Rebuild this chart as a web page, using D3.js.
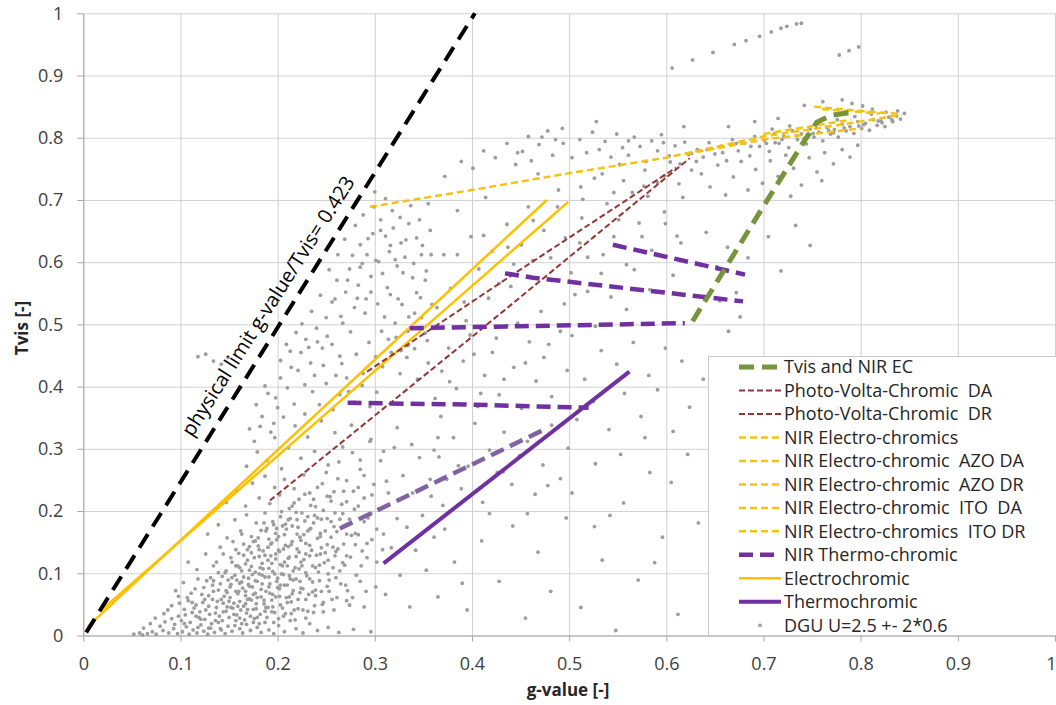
<!DOCTYPE html>
<html>
<head>
<meta charset="utf-8">
<script src="https://cdn.jsdelivr.net/npm/d3@7"></script>
<style>
  body { margin: 0; background: #fff; }
  text { font-family: "Open Sans", "Noto Sans", sans-serif; }
</style>
</head>
<body>
<div id="chart"></div>
<script>

// tick values and labels
var xTicks = [0, 0.1, 0.2, 0.3, 0.4, 0.5, 0.6, 0.7, 0.8, 0.9, 1];
var xTickLabels = ["0", "0.1", "0.2", "0.3", "0.4", "0.5", "0.6", "0.7", "0.8", "0.9", "1"];
var yTicks = [0, 0.1, 0.2, 0.3, 0.4, 0.5, 0.6, 0.7, 0.8, 0.9, 1];
var yTickLabels = ["0", "0.1", "0.2", "0.3", "0.4", "0.5", "0.6", "0.7", "0.8", "0.9", "1"];

// lines [g-value, Tvis]
var physicalLimit = [[0.003, 0.005], [0.403, 1.0]];
var tvisNirEC = [[0.627, 0.505], [0.70, 0.69], [0.74, 0.79], [0.755, 0.825], [0.77, 0.836], [0.795, 0.842]];
var pvcDA = [[0.192, 0.217], [0.40, 0.48], [0.624, 0.767]];
var pvcDR = [[0.292, 0.424], [0.44, 0.578], [0.61, 0.752]];
var nirEC = [[0.295, 0.689], [0.40, 0.716], [0.50, 0.743], [0.60, 0.768], [0.70, 0.802], [0.78, 0.821], [0.842, 0.837]];
var nirEcAzoDA = [[0.752, 0.850], [0.80, 0.843], [0.842, 0.838]];
var nirEcAzoDR = [[0.62, 0.774], [0.70, 0.797], [0.80, 0.815]];
var nirEcItoDA = [[0.76, 0.846], [0.82, 0.839]];
var nirEcItoDR = [[0.70, 0.806], [0.79, 0.829]];
var nirThermo1 = [[0.336, 0.494], [0.45, 0.497], [0.619, 0.502]];
var nirThermo2 = [[0.434, 0.582], [0.463, 0.575], [0.679, 0.537]];
var nirThermo3 = [[0.545, 0.628], [0.681, 0.580]];
var nirThermo4 = [[0.272, 0.374], [0.40, 0.371], [0.52, 0.366]];
var nirThermo5 = [[0.264, 0.172], [0.477, 0.333]];
var electro1 = [[0.005, 0.015], [0.477, 0.700]];
var electro2 = [[0.018, 0.040], [0.499, 0.697]];
var thermo = [[0.309, 0.116], [0.562, 0.424]];

// DGU scatter [g-value, Tvis], split by region of the plot
var dguLow = [
  [.052,.002],[.058,.004],[.061,.001],[.066,.003],[.071,.006],[.075,.002],[.082,.008],[.088,.004],[.093,.011],[.097,.003],
  [.102,.006],[.106,.014],[.109,.002],[.113,.009],[.117,.004],[.121,.017],[.124,.007],[.128,.002],[.131,.012],[.135,.005],
  [.139,.021],[.142,.009],[.146,.003],[.149,.015],[.153,.007],[.157,.024],[.161,.011],[.164,.004],[.168,.018],[.172,.008],
  [.176,.027],[.179,.013],[.183,.005],[.187,.021],[.191,.009],[.196,.003],[.201,.016],[.207,.006],[.213,.024],[.219,.011],
  [.226,.004],[.233,.019],[.241,.008],[.252,.013],[.263,.005],[.278,.010],[.296,.006],
  [.083,.035],[.091,.048],[.098,.031],[.104,.042],[.108,.056],[.112,.037],[.116,.049],[.119,.029],[.123,.053],[.126,.041],
  [.13,.034],[.133,.058],[.137,.045],[.14,.031],[.144,.052],[.147,.039],[.151,.061],[.154,.044],[.158,.033],[.161,.055],
  [.165,.047],[.168,.036],[.171,.059],[.175,.042],[.178,.051],[.182,.034],[.186,.057],[.19,.045],[.194,.038],[.198,.062],
  [.203,.049],[.208,.035],[.214,.054],[.221,.043],[.229,.058],[.237,.037],[.246,.05],[.258,.041],[.271,.056],[.289,.046],
  [.095,.072],[.103,.085],[.111,.068],[.118,.091],[.124,.077],[.129,.064],[.134,.088],[.139,.073],[.143,.095],[.148,.069],
  [.152,.082],[.156,.097],[.16,.071],[.163,.086],[.167,.064],[.17,.092],[.174,.078],[.177,.068],[.181,.099],[.184,.083],
  [.188,.071],[.191,.094],[.195,.066],[.199,.087],[.202,.075],[.206,.098],[.21,.081],[.215,.067],[.219,.091],[.224,.076],
  [.23,.096],[.236,.07],[.243,.088],[.251,.079],[.26,.093],[.272,.072],[.285,.087],[.301,.078],
  [.108,.118],[.117,.106],[.126,.131],[.134,.112],[.141,.142],[.147,.104],[.152,.125],[.157,.138],[.161,.109],[.165,.147],
  [.169,.121],[.173,.133],[.177,.102],[.18,.144],[.184,.116],[.187,.129],[.191,.108],[.194,.149],[.198,.123],[.201,.137],
  [.205,.112],[.208,.145],[.212,.126],[.216,.104],[.22,.139],[.224,.118],[.229,.148],[.233,.128],[.239,.109],[.245,.141],
  [.252,.121],[.26,.135],[.269,.113],[.28,.146],[.292,.125],[.308,.138],
  [.128,.163],[.139,.178],[.148,.157],[.156,.186],[.162,.168],[.168,.194],[.173,.159],[.178,.181],[.183,.169],[.187,.197],
  [.191,.155],[.195,.183],[.199,.172],[.203,.191],[.207,.162],[.211,.186],[.215,.176],[.219,.198],[.223,.158],[.228,.184],
  [.233,.171],[.238,.193],[.244,.164],[.251,.188],[.258,.175],[.267,.196],[.276,.161],[.289,.183],[.302,.171],
  [.147,.214],[.158,.232],[.167,.208],[.174,.245],[.181,.221],[.187,.256],[.192,.212],[.197,.238],[.202,.226],[.207,.251],
  [.212,.204],[.217,.236],[.222,.219],[.227,.258],[.233,.229],[.239,.207],[.246,.244],[.254,.223],[.262,.252],[.271,.215],
  [.283,.238],[.297,.226],[.312,.248],
  [.168,.272],[.179,.295],[.189,.281],[.197,.318],[.204,.268],[.211,.302],[.218,.337],[.224,.285],[.231,.319],[.238,.296],
  [.245,.345],[.252,.274],[.259,.326],[.267,.303],[.276,.338],[.285,.282],[.296,.315],[.309,.296],[.323,.334],[.338,.307]
];

var dguCore = [
  [.062,.012],[.069,.019],[.074,.028],[.079,.015],[.084,.022],[.087,.041],[.091,.027],[.094,.018],[.099,.052],[.101,.024],
  [.105,.033],[.107,.061],[.11,.021],[.114,.044],[.115,.075],[.118,.013],[.12,.038],[.122,.066],[.125,.026],[.127,.088],
  [.129,.047],[.132,.019],[.134,.071],[.136,.036],[.138,.055],[.141,.083],[.143,.024],[.145,.063],[.146,.101],[.148,.046],
  [.15,.029],[.151,.078],[.153,.118],[.155,.052],[.156,.016],[.158,.089],[.159,.067],[.16,.132],[.162,.041],[.163,.104],
  [.164,.076],[.166,.025],[.167,.115],[.169,.058],[.17,.082],[.171,.143],[.172,.031],[.174,.098],[.175,.066],[.176,.125],
  [.178,.043],[.179,.087],[.18,.157],[.181,.019],[.182,.109],[.183,.074],[.185,.136],[.186,.051],[.187,.094],[.188,.168],
  [.189,.029],[.19,.121],[.192,.083],[.193,.147],[.194,.057],[.195,.103],[.196,.178],[.197,.037],[.198,.131],[.2,.092],
  [.201,.159],[.202,.063],[.203,.114],[.204,.199],[.205,.044],[.206,.139],[.207,.081],[.209,.171],[.21,.053],[.211,.124],
  [.212,.096],[.213,.188],[.214,.035],[.215,.151],[.216,.072],[.217,.213],[.218,.109],[.22,.163],[.221,.058],[.222,.134],
  [.223,.087],[.225,.197],[.226,.041],[.227,.122],[.228,.227],[.229,.101],[.231,.168],[.232,.066],[.233,.145],[.234,.209],
  [.236,.086],[.237,.181],[.238,.048],[.24,.129],[.241,.238],[.242,.102],[.244,.159],[.245,.071],[.247,.201],[.248,.117],
  [.25,.262],[.251,.146],[.253,.089],[.255,.183],[.256,.058],[.258,.231],[.259,.128],[.261,.167],[.263,.279],[.264,.104],
  [.266,.211],[.268,.147],[.27,.081],[.271,.249],[.273,.179],[.275,.126],[.277,.294],[.279,.203],[.281,.097],[.283,.162],
  [.285,.267],[.287,.136],[.289,.221],[.291,.071],[.293,.189],[.295,.312],[.297,.154],[.299,.243],[.302,.118],[.304,.204],
  [.306,.281],[.309,.163],[.311,.066],[.314,.229],[.317,.141],[.32,.302],[.323,.188],[.326,.097],[.329,.257],[.333,.174],
  [.336,.046],[.339,.229],[.342,.137],[.346,.286],[.349,.193],[.353,.105],[.357,.251],[.361,.158],[.365,.318],[.37,.209],
  [.131,.093],[.137,.118],[.142,.058],[.144,.131],[.149,.089],[.152,.045],[.154,.151],[.157,.071],[.159,.112],[.161,.028],
  [.163,.163],[.165,.094],[.167,.051],[.169,.138],[.171,.079],[.173,.111],[.175,.021],[.177,.152],[.179,.061],[.181,.127],
  [.184,.097],[.186,.181],[.188,.045],[.19,.142],[.192,.068],[.194,.116],[.196,.021],[.198,.164],[.2,.077],[.202,.135],
  [.204,.099],[.206,.031],[.208,.179],[.21,.112],[.212,.062],[.214,.146],[.216,.089],[.218,.025],[.22,.186],[.222,.107],
  [.224,.153],[.226,.075],[.229,.131],[.231,.039],[.234,.172],[.236,.112],[.239,.064],[.241,.189],[.244,.131],[.247,.053],
  [.249,.168],[.252,.099],[.255,.216],[.257,.142],[.261,.061],[.264,.187],[.267,.117],[.271,.163],[.274,.049],[.278,.232],
  [.141,.011],[.144,.038],[.147,.072],[.15,.055],[.153,.093],[.155,.034],[.157,.112],[.159,.047],[.161,.084],[.163,.019],
  [.165,.129],[.167,.071],[.169,.042],[.171,.105],[.173,.057],[.175,.151],[.177,.088],[.179,.029],[.181,.138],[.183,.062],
  [.185,.107],[.187,.039],[.189,.172],[.191,.078],[.193,.128],[.195,.046],[.197,.099],[.199,.154],[.201,.027],[.203,.081],
  [.205,.176],[.207,.118],[.209,.061],[.211,.143],[.213,.091],[.215,.208],[.217,.041],[.219,.127],[.221,.174],[.223,.069],
  [.225,.112],[.227,.162],[.229,.028],[.231,.191],[.233,.091],[.235,.137],[.237,.219],[.239,.073],[.241,.156],[.243,.113],
  [.245,.187],[.247,.038],[.249,.133],[.251,.224],[.253,.071],[.255,.158],[.257,.109],[.259,.197],[.262,.139],[.265,.083],
  [.268,.232],[.271,.128],[.274,.187],[.277,.061],[.28,.164],[.283,.208],[.286,.112],[.289,.257],[.292,.148],[.296,.196],
  [.121,.026],[.125,.058],[.129,.012],[.133,.081],[.136,.024],[.139,.101],[.112,.053],[.116,.031],[.104,.019],[.098,.063]
];

var dguCloud = [
  [.118,.448],[.126,.452],[.134,.441],[.142,.436],[.149,.447],
  [.171,.332],[.178,.371],[.184,.352],[.19,.389],[.196,.341],[.2,.366],
  [.203,.442],[.209,.468],[.214,.431],[.219,.487],[.224,.455],[.229,.476],[.234,.438],[.24,.494],[.246,.462],[.251,.481],
  [.256,.536],[.261,.571],[.265,.513],[.27,.552],[.274,.589],[.279,.527],[.283,.563],[.287,.598],[.291,.541],[.296,.577],
  [.228,.356],[.236,.392],[.243,.371],[.25,.405],[.257,.363],[.264,.387],[.271,.414],[.279,.375],[.287,.402],[.295,.368],[.302,.391],
  [.306,.668],[.311,.642],[.315,.617],[.319,.655],[.323,.594],[.327,.631],[.331,.608],[.335,.662],[.339,.575],[.343,.639],
  [.348,.612],[.353,.586],[.357,.651],[.285,.628],[.292,.612],[.298,.646],[.304,.601],
  [.31,.512],[.316,.548],[.322,.479],[.328,.532],[.334,.466],[.341,.518],[.347,.543],[.352,.486],
  [.308,.432],[.317,.455],[.326,.421],[.333,.447],[.344,.412],[.355,.438],[.30,.713],
  [.176,.312],[.182,.336],[.187,.401],[.193,.327],[.198,.382],[.203,.414],[.206,.351],[.21,.398],[.213,.457],[.217,.372],
  [.221,.426],[.225,.501],[.228,.403],[.232,.463],[.235,.521],[.238,.418],[.241,.472],[.244,.547],[.247,.434],[.25,.511],
  [.253,.588],[.256,.468],[.259,.541],[.262,.612],[.264,.449],[.267,.502],[.269,.637],[.272,.571],[.275,.488],[.277,.611],
  [.28,.659],[.282,.542],[.285,.592],[.288,.676],[.29,.518],[.293,.638],[.296,.552],[.299,.689],[.301,.603],[.303,.533],
  [.306,.651],[.308,.582],[.311,.702],[.313,.559],[.316,.627],[.318,.683],[.321,.604],[.324,.541],[.326,.672],[.329,.583],
  [.332,.636],[.335,.512],[.337,.691],[.34,.598],[.343,.551],[.346,.668],[.349,.627],[.352,.571],[.355,.694],[.358,.612],
  [.26,.418],[.266,.437],[.273,.392],[.281,.452],[.288,.421],[.294,.471],[.301,.448],[.307,.489],[.314,.476],[.321,.502],
  [.327,.458],[.334,.489],[.341,.461],[.348,.511],[.354,.474],[.359,.532]
];

var dguMid = [
  [.365,.062],[.382,.118],[.395,.041],[.41,.152],[.428,.087],[.442,.176],[.455,.028],[.468,.134],[.481,.071],[.497,.189],
  [.372,.171],[.418,.196],[.39,.084],
  [.358,.224],[.366,.287],[.374,.251],[.381,.318],[.389,.236],[.396,.272],[.403,.341],[.411,.214],[.418,.298],[.426,.262],
  [.433,.327],[.441,.243],[.449,.289],[.457,.312],[.465,.227],[.473,.274],[.482,.338],[.491,.252],[.499,.301],
  [.362,.381],[.369,.425],[.376,.462],[.384,.397],[.391,.441],[.398,.483],[.406,.368],[.413,.418],[.421,.455],[.428,.387],
  [.436,.498],[.443,.431],[.451,.365],[.459,.472],[.466,.409],[.474,.447],[.482,.384],[.491,.489],[.498,.426],
  [.364,.527],[.371,.612],[.378,.558],[.385,.683],[.392,.536],[.399,.641],[.407,.589],[.414,.704],[.421,.618],[.428,.566],
  [.436,.661],[.443,.597],[.451,.628],[.458,.689],[.466,.574],[.474,.651],[.481,.607],[.489,.716],[.496,.639],[.502,.583],
  [.372,.738],[.389,.762],[.401,.751],[.412,.779],[.424,.768],[.436,.791],[.447,.776],[.458,.802],[.469,.789],[.478,.811],
  [.486,.797],[.493,.815],[.468,.742],[.445,.757],
  [.512,.045],[.534,.121],[.548,.008],[.556,.213],[.571,.089],[.583,.262],[.596,.158],[.612,.034],[.622,.291],[.527,.276],
  [.542,.193],[.588,.117],
  [.508,.347],[.516,.412],[.525,.376],[.533,.458],[.541,.331],[.549,.436],[.557,.389],[.566,.471],[.574,.352],[.582,.418],
  [.591,.395],[.599,.462],[.607,.328],[.616,.441],[.624,.367],
  [.506,.548],[.513,.671],[.519,.608],[.526,.735],[.533,.582],[.539,.694],[.546,.641],[.552,.757],[.559,.596],[.565,.712],
  [.572,.663],[.578,.748],[.585,.619],[.591,.728],[.598,.681],[.604,.761],[.611,.642],[.617,.704],[.623,.773],[.528,.826],
  [.561,.795],[.595,.805],[.618,.818],
  [.361,.298],[.368,.352],[.377,.408],[.386,.273],[.394,.506],[.402,.452],[.409,.389],[.417,.542],[.425,.478],[.433,.412],
  [.44,.561],[.447,.502],[.455,.438],[.463,.603],[.471,.521],[.479,.468],[.487,.572],[.495,.533],[.503,.482],[.511,.631],
  [.519,.553],[.527,.497],[.535,.612],[.543,.544],[.551,.668],[.559,.524],[.567,.588],[.575,.641],[.583,.556],[.591,.611],
  [.599,.662],[.607,.579],[.615,.631],[.385,.612],[.412,.643],[.437,.624],[.463,.667],[.488,.689],[.514,.701],[.432,.263],
  [.457,.196],[.478,.241],[.503,.229],[.526,.175],[.553,.291],[.578,.318],[.605,.246]
];

var dguHigh = [
  [.632,.781],[.638,.769],[.644,.792],[.65,.774],[.656,.786],[.662,.763],[.668,.797],[.674,.779],[.68,.791],[.686,.771],
  [.691,.802],[.696,.786],[.701,.796],[.706,.778],[.711,.806],[.716,.791],[.721,.802],[.726,.784],[.73,.811],[.735,.797],
  [.739,.806],[.744,.79],[.748,.814],[.752,.801],[.757,.809],[.761,.795],[.765,.817],[.769,.806],[.773,.813],[.777,.801],
  [.781,.822],[.785,.811],[.789,.818],[.793,.807],[.797,.826],[.801,.815],[.805,.823],[.809,.812],[.813,.829],[.817,.82],
  [.821,.827],[.825,.818],[.829,.833],[.833,.826],[.837,.835],[.841,.83],[.845,.839],[.712,.792],[.742,.799],[.772,.808],
  [.798,.819],[.822,.824],
  [.636,.742],[.645,.721],[.653,.756],[.661,.708],[.669,.737],[.677,.762],[.684,.716],[.692,.749],[.699,.727],[.707,.763],
  [.715,.738],[.723,.772],[.731,.751],[.739,.724],[.747,.768],[.755,.745],[.763,.776],[.772,.758],[.781,.781],[.789,.769],
  [.797,.788],[.76,.731],[.728,.706],
  [.742,.852],[.761,.858],[.781,.861],[.791,.855],[.802,.851],[.812,.846],[.664,.818],[.691,.826],[.715,.831],
  [.641,.648],[.652,.593],[.663,.624],[.672,.551],[.684,.607],[.693,.672],[.705,.641],[.718,.586],[.733,.659],[.748,.627],
  [.664,.489],[.676,.512],[.655,.538],[.633,.181],[.638,.412],
  [.452,.778],[.461,.763],[.472,.801],[.483,.772],[.494,.791],[.503,.768],[.511,.797],[.518,.776],[.524,.809],[.531,.781],
  [.537,.794],[.543,.769],[.549,.806],[.555,.784],[.561,.772],[.567,.801],[.573,.786],[.579,.762],[.585,.795],[.591,.779],
  [.597,.792],[.603,.771],[.609,.787],[.614,.758],[.619,.793],[.626,.775],[.631,.762],[.642,.781],[.658,.776],[.672,.791],
  [.687,.786],[.703,.791],[.719,.797],[.734,.803],[.751,.807],[.767,.812],[.783,.816],[.803,.821],[.818,.827],[.832,.829],
  [.709,.814],[.727,.819],[.754,.824],[.776,.829],[.794,.834],[.811,.838],[.826,.841],[.838,.843],
  [.512,.721],[.534,.742],[.556,.731],[.577,.722],[.598,.739],[.613,.726],[.626,.748],[.581,.706],[.546,.712],
  [.606,.912],[.627,.925],[.648,.937],[.67,.95],[.682,.956],[.696,.963],[.708,.97],[.718,.976],[.724,.979],[.734,.983],
  [.739,.984],[.778,.933],[.788,.94],[.798,.946]
];

var dgu = dguLow.concat(dguCore, dguCloud, dguMid, dguHigh);

// legend entries, top to bottom
var legendNames = ["Tvis and NIR EC", "Photo-Volta-Chromic  DA", "Photo-Volta-Chromic  DR", "NIR Electro-chromics",
  "NIR Electro-chromic  AZO DA", "NIR Electro-chromic  AZO DR", "NIR Electro-chromic  ITO  DA",
  "NIR Electro-chromics  ITO DR", "NIR Thermo-chromic", "Electrochromic", "Thermochromic", "DGU U=2.5 +- 2*0.6"];

// line styles
var sBlack = {color: "#000000", width: 4, dash: "16,9"};
var sGreen = {color: "#77933c", width: 5, dash: "15,8"};
var sBrown = {color: "#943634", width: 2, dash: "6,3"};
var sYellowDash = {color: "#f2c314", width: 2.5, dash: "7,4"};
var sPurpleDash = {color: "#7030a0", width: 4.5, dash: "14,7"};
var sPurpleLight = {color: "#8064a2", width: 4.5, dash: "14,7"};
var sYellow = {color: "#ffc000", width: 2.5, dash: null};
var sPurple = {color: "#7030a0", width: 4, dash: null};

var svgWidth = 1056;
var svgHeight = 705;

var svg = d3.select("#chart")
  .append("svg")
  .attr("width", svgWidth)
  .attr("height", svgHeight);

var xScale = d3.scaleLinear().domain([0, 1]).range([83.3, 1055]);
var yScale = d3.scaleLinear().domain([0, 1]).range([635.5, 13.3]);

// gridlines
svg.append("g")
  .attr("transform", "translate(0," + yScale(0) + ")")
  .call(d3.axisBottom(xScale).tickValues(xTicks).tickSize(-(yScale(0) - yScale(1))).tickFormat(""))
  .call(g => g.select(".domain").remove())
  .selectAll("line").attr("stroke", "#d0d0d0");

svg.append("g")
  .attr("transform", "translate(" + xScale(0) + ",0)")
  .call(d3.axisLeft(yScale).tickValues(yTicks).tickSize(-(xScale(1) - xScale(0))).tickFormat(""))
  .call(g => g.select(".domain").remove())
  .selectAll("line").attr("stroke", "#d0d0d0");

// axes
var bottomAxis = d3.axisBottom(xScale).tickValues(xTicks).tickSize(6).tickSizeOuter(0)
  .tickFormat((d, i) => xTickLabels[i]);
var leftAxis = d3.axisLeft(yScale).tickValues(yTicks).tickSize(6).tickSizeOuter(0)
  .tickFormat((d, i) => yTickLabels[i]);

var gx = svg.append("g")
  .attr("transform", "translate(0," + yScale(0) + ")")
  .call(bottomAxis);
gx.select(".domain").attr("stroke", "#a6a6a6");
gx.selectAll("line").attr("stroke", "#a6a6a6");
gx.selectAll("text")
  .attr("y", 22)
  .attr("dy", "0.71em")
  .style("font-size", "18px")
  .attr("fill", "#404040");
// last label sits on the window edge; keep it inside
gx.selectAll("text").filter((d, i) => i === xTicks.length - 1)
  .attr("text-anchor", "end")
  .attr("x", 1);

var gy = svg.append("g")
  .attr("transform", "translate(" + xScale(0) + ",0)")
  .call(leftAxis);
gy.select(".domain").attr("stroke", "#a6a6a6");
gy.selectAll("line").attr("stroke", "#a6a6a6");
gy.selectAll("text")
  .attr("x", -20)
  .style("font-size", "18px")
  .attr("fill", "#404040");

// axis titles
svg.append("text")
  .attr("x", 568)
  .attr("y", 696)
  .attr("text-anchor", "middle")
  .style("font-size", "17px")
  .style("font-weight", "bold")
  .attr("fill", "#262626")
  .text("g-value [-]");

svg.append("text")
  .attr("transform", "translate(28,328) rotate(-90)")
  .attr("text-anchor", "middle")
  .style("font-size", "17px")
  .style("font-weight", "bold")
  .attr("fill", "#262626")
  .text("Tvis [-]");

// scatter
svg.append("g")
  .selectAll("circle")
  .data(dgu)
  .enter()
  .append("circle")
  .attr("cx", d => xScale(d[0]))
  .attr("cy", d => yScale(d[1]))
  .attr("r", 1.9)
  .attr("fill", "#9d9d9d");

var line = d3.line()
  .x(d => xScale(d[0]))
  .y(d => yScale(d[1]));

function drawLine(data, s) {
  svg.append("path")
    .datum(data)
    .attr("d", line)
    .attr("fill", "none")
    .attr("stroke", s.color)
    .attr("stroke-width", s.width)
    .attr("stroke-dasharray", s.dash);
}

drawLine(electro1, sYellow);
drawLine(electro2, sYellow);
drawLine(pvcDA, sBrown);
drawLine(pvcDR, sBrown);
drawLine(nirEC, sYellowDash);
drawLine(nirEcAzoDA, sYellowDash);
drawLine(nirEcAzoDR, sYellowDash);
drawLine(nirEcItoDA, sYellowDash);
drawLine(nirEcItoDR, sYellowDash);
drawLine(nirThermo5, sPurpleLight);
drawLine(nirThermo1, sPurpleDash);
drawLine(nirThermo2, sPurpleDash);
drawLine(nirThermo3, sPurpleDash);
drawLine(nirThermo4, sPurpleDash);
drawLine(thermo, sPurple);
drawLine(tvisNirEC, sGreen);
drawLine(physicalLimit, sBlack);

// physical limit label
svg.append("text")
  .attr("transform", "translate(268,306) rotate(-57.5)")
  .attr("text-anchor", "middle")
  .attr("dy", "0.35em")
  .style("font-size", "20px")
  .attr("fill", "#000")
  .text("physical limit g-value/Tvis= 0.423");

// legend
var legendStyles = [sGreen, sBrown, sBrown, sYellowDash, sYellowDash, sYellowDash, sYellowDash, sYellowDash,
  sPurpleDash, sYellow, sPurple, null];

var legend = svg.append("g");
legend.append("rect")
  .attr("x", 708.5)
  .attr("y", 356.5)
  .attr("width", 360)
  .attr("height", 279)
  .attr("fill", "#fff")
  .attr("stroke", "#c8c8c8");

var rows = legend.selectAll(".row")
  .data(legendNames)
  .enter()
  .append("g")
  .attr("class", "row")
  .attr("transform", (d, i) => "translate(0," + (367 + i * 23.48) + ")");

rows.each(function(d, i) {
  var g = d3.select(this);
  var s = legendStyles[i];
  if (s) {
    g.append("line")
      .attr("x1", 739).attr("x2", 781)
      .attr("y1", 0).attr("y2", 0)
      .attr("stroke", s.color)
      .attr("stroke-width", s.width)
      .attr("stroke-dasharray", s.dash);
  } else {
    g.append("circle")
      .attr("cx", 760).attr("cy", 0).attr("r", 1.9)
      .attr("fill", "#9d9d9d");
  }
  g.append("text")
    .attr("x", 784)
    .attr("dy", "0.35em")
    .style("font-size", "18px")
    .attr("fill", "#262626")
    .style("white-space", "pre")
    .text(d);
});

</script>
</body>
</html>
